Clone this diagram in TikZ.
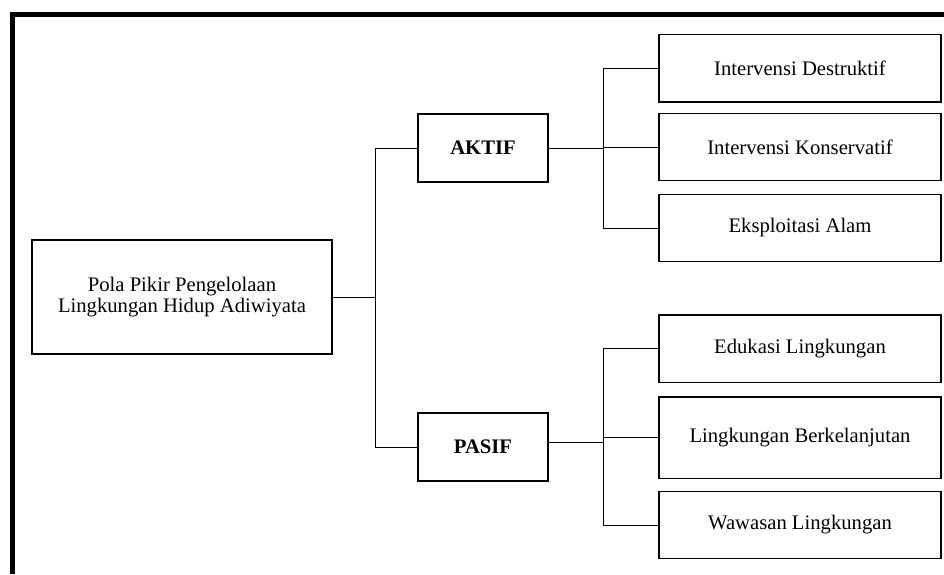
\documentclass[tikz,border=0pt]{standalone}
\usepackage{fontspec}
\setmainfont{Liberation Serif}
\usetikzlibrary{positioning,calc}

\begin{document}
\begin{tikzpicture}[
  x=0.75pt, y=-0.75pt,
  font=\fontsize{15.5}{15.5}\selectfont,
  box/.style={draw, line width=1pt, align=center, inner sep=4pt},
  rootbox/.style={box, minimum width=225pt, minimum height=85.5pt},
  kind/.style={box, font=\fontsize{15.5}{16}\selectfont\bfseries,
               minimum width=97.5pt, minimum height=51pt},
  leaf/.style={box, minimum width=211.5pt, minimum height=50.5pt},
  link/.style={line width=0.6pt},
  frame/.style={line width=3.75pt},
]
\useasboundingbox (0,0) rectangle (944,574);

% ---------------- FRAME (cut at right and bottom) ----------------
\draw[frame] (12.5,574) -- (12.5,14.5) -- (944,14.5);

% ---------------- NODES (absolute grid) ----------------
\node[rootbox] (ROOT) at (182,297)
  {Pola Pikir Pengelolaan\\Lingkungan Hidup Adiwiyata};
\node[kind] (AKTIF) at (483,148) {AKTIF};
\node[kind] (PASIF) at (483,447) {PASIF};

\node[leaf] (DESTR) at (800,68.5) {Intervensi Destruktif};
\node[leaf] (KONS)  at (800,147)  {Intervensi Konservatif};
\node[leaf] (EKSP)  at (800,228)  {Eksploitasi Alam};
\node[leaf] (EDU)   at (800,348.5) {Edukasi Lingkungan};
\node[leaf, minimum height=61pt] (BERK) at (800,437.5) {Lingkungan Berkelanjutan};
\node[leaf] (WAW)   at (800,525)  {Wawasan Lingkungan};

% ---------------- JUNCTIONS ----------------
\coordinate (jRoot)  at (375,297);
\coordinate (jAktif) at (603,148);
\coordinate (jPasif) at (603,442);

% ---------------- EDGES ----------------
\draw[link] (ROOT.east) -- (jRoot);
\draw[link] (jRoot) |- (AKTIF.west);
\draw[link] (jRoot) |- (PASIF.west);

\draw[link] (AKTIF.east) -- (jAktif);
\foreach \leafName in {DESTR,KONS,EKSP}
  \draw[link] (jAktif) |- (\leafName.west);

\draw[link] (PASIF.east |- jPasif) -- (jPasif);
\foreach \leafName in {EDU,BERK,WAW}
  \draw[link] (jPasif) |- (\leafName.west);
\end{tikzpicture}
\end{document}
